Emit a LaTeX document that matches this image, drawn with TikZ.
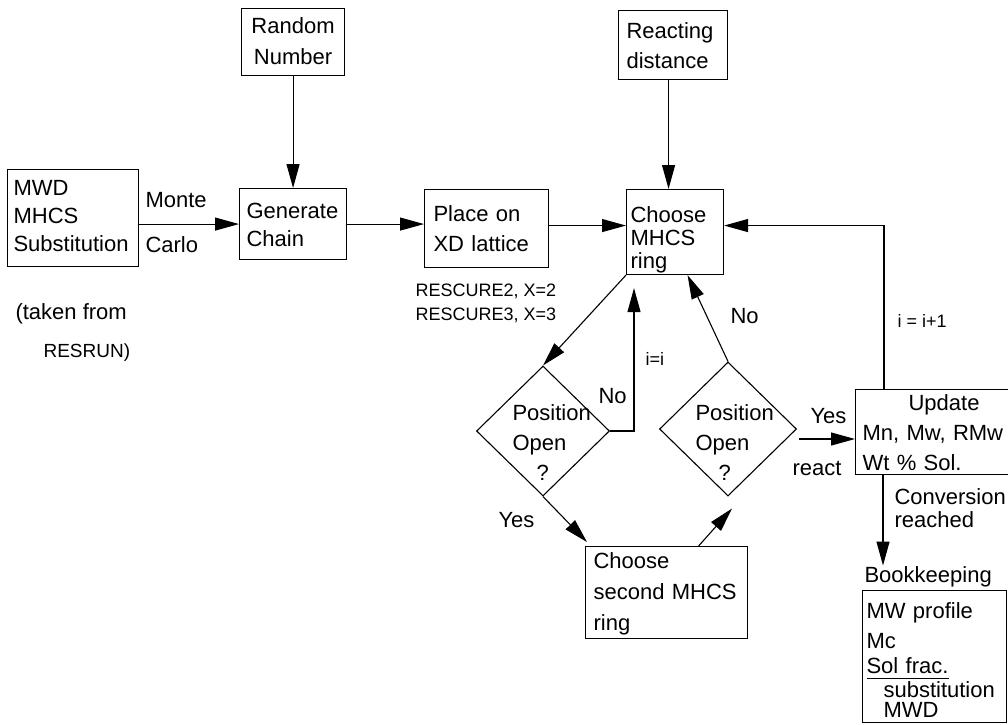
\documentclass[tikz,border=0pt]{standalone}
\usepackage{fontspec}
\setmainfont{Liberation Sans}
\usetikzlibrary{arrows.meta,shapes.geometric,calc}
\newcommand\fsz[2]{\fontsize{#1pt}{#2pt}\selectfont}
\begin{document}
\begin{tikzpicture}[x=1pt,y=-1pt,
  line width=1.1pt,
  arr/.style={-{Triangle[length=24pt,width=13pt]}},
  box/.style={draw, rectangle, anchor=north west, inner sep=0pt, align=left, font=\fsz{22}{28}},
  lbl/.style={anchor=base west, inner sep=0pt, font=\fsz{22}{28}},
  small/.style={anchor=base west, inner sep=0pt, font=\fsz{18}{24}},
  dia/.style={draw, diamond, inner sep=0pt},
  diatext/.style={anchor=base west, inner sep=0pt, align=left, text width=90pt, font=\fsz{22}{30}}]
\useasboundingbox (0,0) rectangle (1008,724);

% boxes
\node[box, minimum width=131pt, text width=119pt, text height=26pt, text depth=71pt] (mwd) at (7,169) {MWD\\MHCS\\Substitution};
\node[box, minimum width=103pt, text width=95pt, align=center, font=\fsz{22}{31}, text height=25pt, text depth=42pt] (rand) at (241,8) {Random\\Number};
\node[box, minimum width=107pt, text width=93pt, text height=30pt, text depth=41pt] (gen) at (239,188) {Generate\\Chain};
\node[box, minimum width=124pt, text width=106pt, font=\fsz{22}{30}, text height=32pt, text depth=46pt] (place) at (424,189) {Place on\\XD lattice};
\node[box, minimum width=109pt, text width=93pt, font=\fsz{22}{30}, text height=28pt, text depth=41pt] (react) at (618,10) {Reacting\\distance};
\node[box, minimum width=97pt, text width=89pt, font=\fsz{22}{23}, text height=33pt, text depth=52pt] (choose) at (626,189) {Choose\\MHCS\\ring};
\node[box, minimum width=162pt, text width=146pt, font=\fsz{22}{31}, text height=22pt, text depth=70pt] (second) at (585,546) {Choose\\second MHCS\\ring};
\node[box, minimum width=175pt, text width=161pt, font=\fsz{22}{30}, text height=21pt, text depth=64pt] (update) at (855,389) {\hspace*{46pt}Update\\Mn, Mw, RMw\\Wt \% Sol.};
\node[box, minimum width=144pt, text width=136pt, font=\fsz{22}{28}, text height=28pt, text depth=104pt] (bk) at (862,590)
  {MW profile\\[2pt]Mc\\[-3pt]\leavevmode\rlap{\rule[-5pt]{82pt}{0.9pt}}Sol frac.\\[-4pt]\hspace*{17pt}substitution\\[-8pt]\hspace*{17pt}MWD};
\node[lbl] (bkl) at (864,582) {Bookkeeping};

% diamonds
\node[dia, minimum width=133pt, minimum height=130pt] (d1) at (543,431) {};
\node[diatext] (d1t) at (512,420) {Position\\Open\\\hspace*{24pt}?};
\node[dia, minimum width=137pt, minimum height=134pt] (d2) at (728,429) {};
\node[diatext] (d2t) at (695,420) {Position\\Open\\\hspace*{23pt}?};

% free labels
\node[lbl] (monte) at (145,207) {Monte};
\node[lbl] (carlo) at (145,252) {Carlo};
\node[small] (rc2) at (415,296) {RESCURE2, X=2};
\node[small] (rc3) at (415,320) {RESCURE3, X=3};
\node[lbl] (taken) at (15,319) {(taken from};
\node[lbl, font=\fsz{19}{24}] (resrun) at (43,357) {RESRUN)};
\node[lbl] (no1) at (598,403) {No};
\node[small] (ii) at (645,365) {i=i};
\node[lbl] (yes1) at (498,527) {Yes};
\node[lbl] (no2) at (730,323) {No};
\node[lbl] (yes2) at (810,423) {Yes};
\node[lbl] (reactl) at (792,475) {react};
\node[small] (iinc) at (897,327) {i = i+1};
\node[lbl] (conv) at (894,504) {Conversion};
\node[lbl] (reached) at (894,527) {reached};

% connectors
\draw[arr] (mwd.east |- gen.west) -- (gen.west);
\draw[arr] (rand.south) -- (gen.north);
\draw[arr] (gen.east) -- (gen.east -| place.west);
\draw[arr] ([yshift=3pt]place.east) -- ([yshift=3pt]place.east -| choose.west);
\draw[arr] ([xshift=-4.5pt]react.south) -- ([xshift=-4.5pt]react.south |- choose.north);
\draw[arr] (choose.south west) -- (d1.north);
\draw[arr, shorten >=13pt] (d1.east) -| ([xshift=8pt]choose.south west);
\draw[arr] (d1.south) -- ([shift={(2pt,4pt)}]second.north west);
\draw[arr] ([xshift=32pt]second.north) -- ([shift={(4pt,-12pt)}]d2.south);
\draw[arr] (d2.north) -- ([xshift=12.5pt]choose.south);
\coordinate (ys) at ([shift={(2pt,-10pt)}]d2.east);
\draw[arr] (ys) -- (ys -| update.west);
\draw[arr] ([xshift=29pt]update.north west) |- ([yshift=6.5pt]choose.east);
\draw[arr] ([xshift=28pt]update.south west) -- ([xshift=28pt]update.south west |- bkl.north);
\end{tikzpicture}
\end{document}
